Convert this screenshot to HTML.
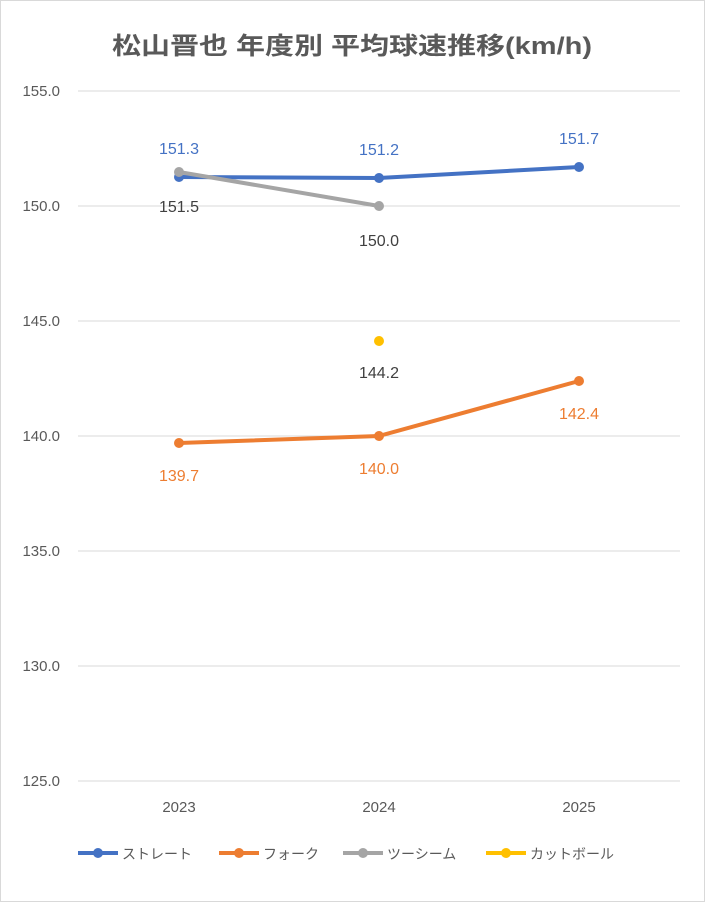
<!DOCTYPE html>
<html><head><meta charset="utf-8"><style>
body{margin:0;background:#fff}
svg text{font-family:"Liberation Sans","Noto Sans CJK JP",sans-serif}
</style></head><body>
<svg width="705" height="902" xmlns="http://www.w3.org/2000/svg">
<rect x="0.5" y="0.5" width="704" height="901" fill="#fff" stroke="#d9d9d9"/>
<text x="112" y="54" font-size="24" font-weight="bold" fill="#595959" textLength="480" lengthAdjust="spacingAndGlyphs">松山晋也 年度別 平均球速推移(km/h)</text>
<g stroke="#d9d9d9" stroke-width="1">
<line x1="78" x2="680" y1="91" y2="91"/><line x1="78" x2="680" y1="206" y2="206"/>
<line x1="78" x2="680" y1="321" y2="321"/><line x1="78" x2="680" y1="436" y2="436"/>
<line x1="78" x2="680" y1="551" y2="551"/><line x1="78" x2="680" y1="666" y2="666"/>
<line x1="78" x2="680" y1="781" y2="781"/>
</g>
<g font-size="15" fill="#595959" text-anchor="end">
<text x="60" y="96">155.0</text><text x="60" y="211">150.0</text><text x="60" y="326">145.0</text>
<text x="60" y="441">140.0</text><text x="60" y="556">135.0</text><text x="60" y="671">130.0</text><text x="60" y="786">125.0</text>
</g>
<g font-size="15" fill="#595959" text-anchor="middle">
<text x="179" y="812">2023</text><text x="379" y="812">2024</text><text x="579" y="812">2025</text>
</g>
<polyline points="179,443 379,436 579,381" fill="none" stroke="#ed7d31" stroke-width="4"/>
<g fill="#ed7d31"><circle cx="179" cy="443" r="5"/><circle cx="379" cy="436" r="5"/><circle cx="579" cy="381" r="5"/></g>
<polyline points="179,177 379,178 579,167" fill="none" stroke="#4472c4" stroke-width="4"/>
<g fill="#4472c4"><circle cx="179" cy="177" r="5"/><circle cx="379" cy="178" r="5"/><circle cx="579" cy="167" r="5"/></g>
<polyline points="179,172 379,206" fill="none" stroke="#a5a5a5" stroke-width="4"/>
<g fill="#a5a5a5"><circle cx="179" cy="172" r="5"/><circle cx="379" cy="206" r="5"/></g>
<circle cx="379" cy="341" r="5" fill="#ffc000"/>
<g font-size="16" text-anchor="middle">
<text x="179" y="154" fill="#4472c4">151.3</text><text x="379" y="155" fill="#4472c4">151.2</text><text x="579" y="144" fill="#4472c4">151.7</text>
<text x="179" y="212" fill="#404040">151.5</text><text x="379" y="246" fill="#404040">150.0</text>
<text x="379" y="378" fill="#404040">144.2</text>
<text x="179" y="481" fill="#ed7d31">139.7</text><text x="379" y="474" fill="#ed7d31">140.0</text><text x="579" y="419" fill="#ed7d31">142.4</text>
</g>
<g font-size="14" fill="#595959">
<line x1="78" x2="118" y1="853" y2="853" stroke="#4472c4" stroke-width="4"/><circle cx="98" cy="853" r="5" fill="#4472c4"/>
<text x="122" y="859">ストレート</text>
<line x1="219" x2="259" y1="853" y2="853" stroke="#ed7d31" stroke-width="4"/><circle cx="239" cy="853" r="5" fill="#ed7d31"/>
<text x="263" y="859">フォーク</text>
<line x1="343" x2="383" y1="853" y2="853" stroke="#a5a5a5" stroke-width="4"/><circle cx="363" cy="853" r="5" fill="#a5a5a5"/>
<text x="387" y="859">ツーシーム</text>
<line x1="486" x2="526" y1="853" y2="853" stroke="#ffc000" stroke-width="4"/><circle cx="506" cy="853" r="5" fill="#ffc000"/>
<text x="530" y="859">カットボール</text>
</g>
</svg>
</body></html>
